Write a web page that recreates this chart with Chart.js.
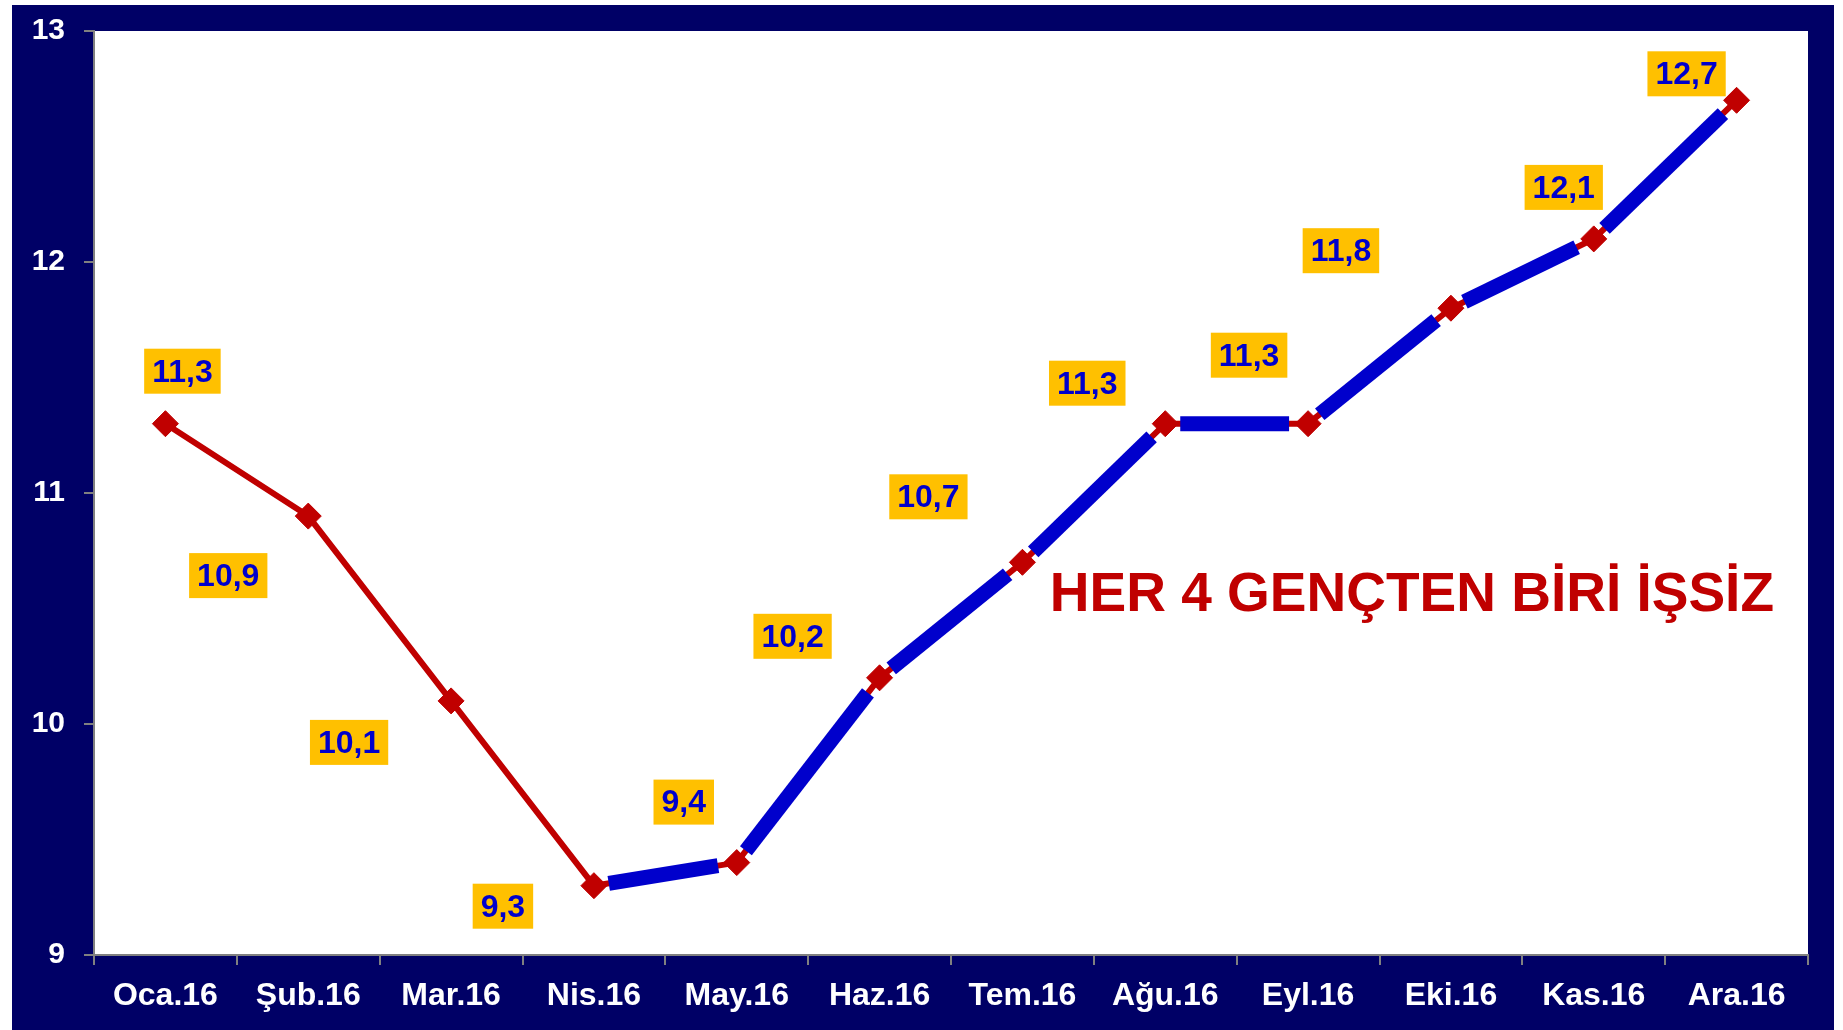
<!DOCTYPE html>
<html>
<head>
<meta charset="utf-8">
<script src="https://cdn.jsdelivr.net/npm/chart.js@4.4.1/dist/chart.umd.min.js"></script>
<style>
    body { margin: 0; background: #fff; }
    #frame { position: absolute; left: 12px; top: 5px; width: 1822px; height: 1025px; background: #000066; }
</style>
</head>
<body>
<div id="frame"><canvas id="youthChart" width="1822" height="1025"></canvas></div>
<script>
const months = ['Oca.16', 'Şub.16', 'Mar.16', 'Nis.16', 'May.16', 'Haz.16', 'Tem.16', 'Ağu.16', 'Eyl.16', 'Eki.16', 'Kas.16', 'Ara.16'];
const rates = [11.3, 10.9, 10.1, 9.3, 9.4, 10.2, 10.7, 11.3, 11.3, 11.8, 12.1, 12.7];
const yTicks = [9, 10, 11, 12, 13];
const highlightFrom = 3; // blue trend starts at Nis.16
const headline = 'HER 4 GENÇTEN BİRİ İŞSİZ';

const FONT = '"Liberation Sans", Arial, sans-serif';
const RED = '#C00000';
const BLUE = '#0000CC';

// where each value box sits relative to its point (px)
const labelOffsets = [[17, -53], [-80, 59], [-102, 41], [-91, 20], [-53, -61], [-87, -42],
                      [-94, -66], [-78, -41], [-59, -69], [-110, -58], [-30, -52], [-50, -27]];

const plotBackground = {
    id: 'plotBackground',
    beforeDraw(chart) {
        const a = chart.chartArea;
        chart.ctx.save();
        chart.ctx.fillStyle = '#fff';
        chart.ctx.fillRect(a.left, a.top, a.right - a.left, a.bottom - a.top);
        chart.ctx.restore();
    }
};

const blueTrend = {
    id: 'blueTrend',
    afterDatasetsDraw(chart) {
        const pts = chart.getDatasetMeta(0).data;
        const ctx = chart.ctx;
        ctx.save();
        ctx.strokeStyle = BLUE;
        ctx.lineWidth = 15;
        ctx.lineCap = 'butt';
        for (let i = highlightFrom; i < pts.length - 1; i++) {
            const p = pts[i], q = pts[i + 1];
            const dx = q.x - p.x, dy = q.y - p.y;
            const len = Math.sqrt(dx * dx + dy * dy);
            const s = 15 / len, e = 1 - 19 / len;
            ctx.beginPath();
            ctx.moveTo(p.x + dx * s, p.y + dy * s);
            ctx.lineTo(p.x + dx * e, p.y + dy * e);
            ctx.stroke();
        }
        ctx.restore();
    }
};

const valueBoxes = {
    id: 'valueBoxes',
    afterDraw(chart) {
        const pts = chart.getDatasetMeta(0).data;
        const ctx = chart.ctx;
        const a = chart.chartArea;
        ctx.save();
        ctx.font = 'bold 32px ' + FONT;
        ctx.textAlign = 'center';
        ctx.textBaseline = 'middle';
        pts.forEach((pt, i) => {
            const txt = rates[i].toFixed(1).replace('.', ',');
            const w = ctx.measureText(txt).width + 16;
            const cx = pt.x + labelOffsets[i][0];
            const cy = pt.y + labelOffsets[i][1];
            ctx.fillStyle = '#FFC000';
            ctx.fillRect(cx - w / 2, cy - 22, w, 45);
            ctx.fillStyle = BLUE;
            ctx.fillText(txt, cx, cy + 2);
        });

        ctx.font = 'bold 55px ' + FONT;
        ctx.textAlign = 'right';
        ctx.fillStyle = RED;
        ctx.fillText(headline, a.right - 34, 591);
        ctx.restore();
    }
};

new Chart(document.getElementById('youthChart'), {
    type: 'line',
    data: {
        labels: months,
        datasets: [{
            data: rates,
            borderColor: RED,
            backgroundColor: RED,
            borderWidth: 6,
            pointStyle: 'rectRot',
            pointRadius: 13,
            pointBorderWidth: 1,
            tension: 0
        }]
    },
    options: {
        responsive: false,
        animation: false,
        layout: { padding: { top: 26, right: 26, left: 0, bottom: 0 } },
        plugins: { legend: { display: false }, tooltip: { enabled: false } },
        scales: {
            x: {
                offset: true,
                afterFit: s => { s.height = 75; s.paddingLeft = 0; s.paddingRight = 0; },
                grid: { offset: true, drawOnChartArea: false, tickLength: 10, color: '#808080', lineWidth: 2 },
                border: { color: '#808080', width: 2 },
                ticks: { color: '#fff', padding: 12, font: { family: FONT, size: 32, weight: 'bold' } }
            },
            y: {
                min: 9,
                max: 13,
                afterFit: s => { s.width = 82; s.paddingTop = 0; s.paddingBottom = 0; },
                afterBuildTicks: s => { s.ticks = yTicks.map(v => ({ value: v })); },
                grid: { drawOnChartArea: false, tickLength: 10, color: '#808080', lineWidth: 2 },
                border: { color: '#808080', width: 2 },
                ticks: { color: '#fff', padding: 19, font: { family: FONT, size: 30, weight: 'bold' } }
            }
        }
    },
    plugins: [plotBackground, blueTrend, valueBoxes]
});
</script>
</body>
</html>
